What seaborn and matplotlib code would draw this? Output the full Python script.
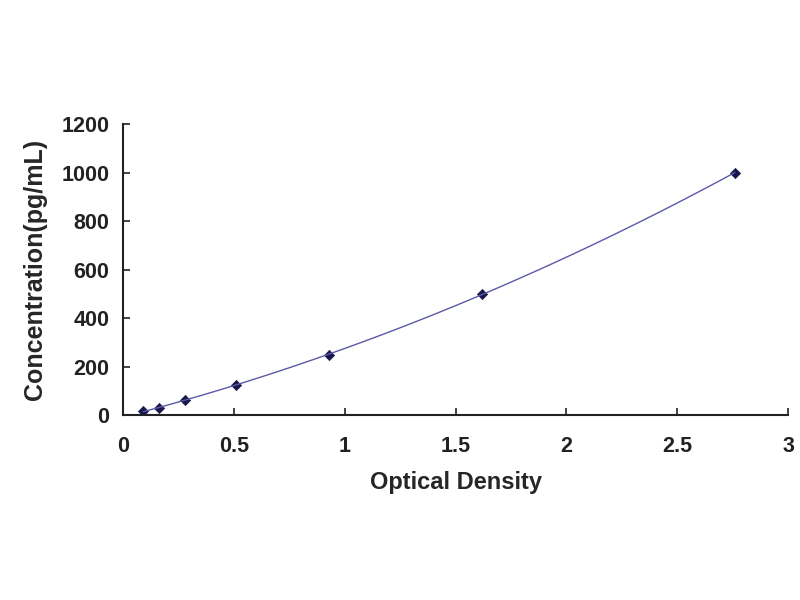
import matplotlib
matplotlib.use("Agg")
import matplotlib.pyplot as plt
import seaborn as sns
import pandas as pd

# standard curve points
od = [0.09, 0.16, 0.28, 0.51, 0.93, 1.62, 2.76]
conc = [15.6, 31.25, 62.5, 125, 250, 500, 1000]
x_ticks = [0, 0.5, 1, 1.5, 2, 2.5, 3]
y_ticks = [0, 200, 400, 600, 800, 1000, 1200]

df = pd.DataFrame({"od": od, "conc": conc})

sns.set_style("white")
plt.rcParams['font.family'] = ['Liberation Sans', 'DejaVu Sans']

fig = plt.figure(figsize=(8, 6), dpi=100)
ax = fig.add_axes([0.154, 0.308, 0.831, 0.485])

sns.regplot(data=df, x="od", y="conc", order=2, ci=None, truncate=True,
            scatter=False, line_kws={"color": "#5a5aa8", "lw": 1.0}, ax=ax)
sns.scatterplot(data=df, x="od", y="conc", marker="D", s=28,
                color="#16164a", edgecolor="#16164a", ax=ax)

ax.set_xlim(0, 3)
ax.set_ylim(0, 1200)
ax.set_xticks(x_ticks)
ax.set_xticklabels([f"{t:g}" for t in x_ticks])
ax.set_yticks(y_ticks)
ax.tick_params(direction="in", length=5, width=1.2, colors="#222222",
               labelsize=15.5, bottom=True, left=True)
ax.tick_params(axis="x", pad=15)
ax.tick_params(axis="y", pad=10)
for lab in ax.get_xticklabels() + ax.get_yticklabels():
    lab.set_fontweight("bold")
    lab.set_color("#222222")

sns.despine(ax=ax)
for s in ["left", "bottom"]:
    ax.spines[s].set_linewidth(1.5)
    ax.spines[s].set_color("#222222")

ax.set_xlabel("Optical Density", fontsize=17, fontweight="bold", labelpad=10)
ax.set_ylabel("Concentration(pg/mL)", fontsize=18, fontweight="bold", labelpad=10)

fig.savefig("out.png", dpi=100)
